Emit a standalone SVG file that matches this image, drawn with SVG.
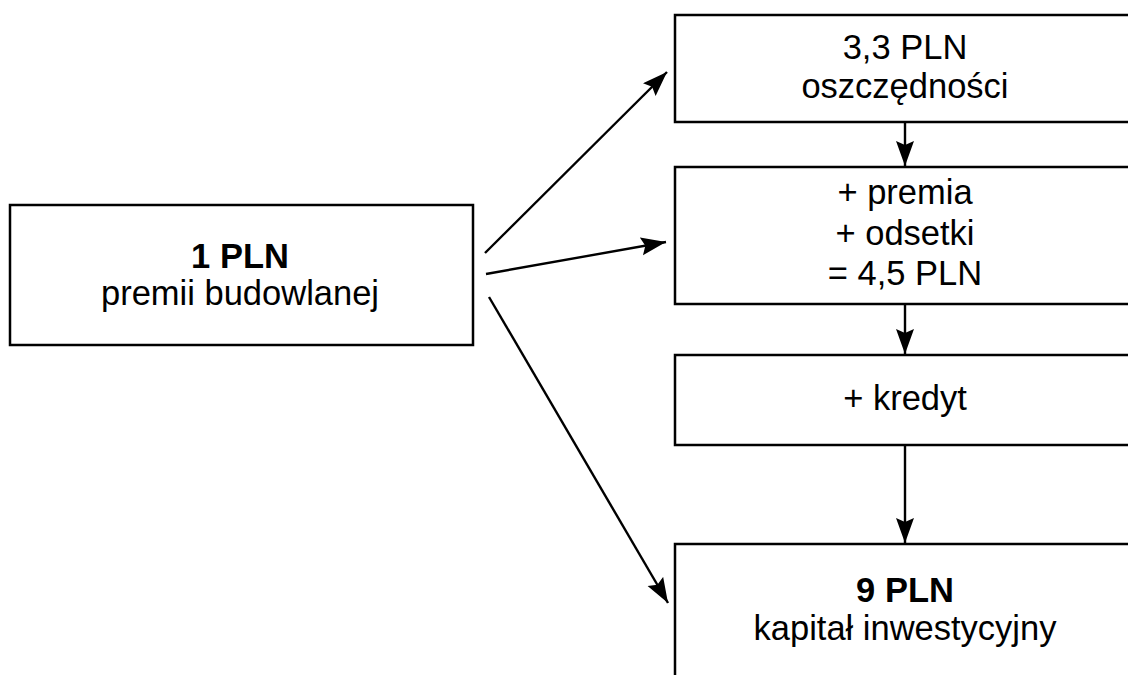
<svg xmlns="http://www.w3.org/2000/svg" width="1128" height="675" viewBox="0 0 1128 675">
<style>
.box{fill:#fff;stroke:#000;stroke-width:2.5}
.t{font-family:"Liberation Sans",Arial,sans-serif;font-size:34.5px;fill:#000;text-anchor:middle}
.b{font-weight:bold}
.c{stroke:#000;stroke-width:2.4;fill:none}
</style>
<defs>
<marker id="ah" markerUnits="userSpaceOnUse" markerWidth="28" markerHeight="20" refX="25" refY="9" orient="auto">
<path d="M0,0 L25,9 L0,18 L4,9 Z" fill="#000"/>
</marker>
</defs>
<rect width="1128" height="675" fill="#fff"/>
<g id="n-premia-budowlana">
<rect class="box" x="10" y="205" width="463" height="140"/>
<text class="t b" x="240" y="268">1 PLN</text>
<text class="t" x="240" y="305">premii budowlanej</text>
</g>
<g id="n-oszczednosci">
<rect class="box" x="675" y="15" width="470" height="107"/>
<text class="t" x="905" y="59">3,3 PLN</text>
<text class="t" x="905" y="98">oszczędności</text>
</g>
<g id="n-premia-odsetki">
<rect class="box" x="675" y="167" width="470" height="137"/>
<text class="t" x="905" y="204">+ premia</text>
<text class="t" x="905" y="245">+ odsetki</text>
<text class="t" x="905" y="285">= 4,5 PLN</text>
</g>
<g id="n-kredyt">
<rect class="box" x="675" y="355" width="470" height="90"/>
<text class="t" x="905" y="410">+ kredyt</text>
</g>
<g id="n-kapital">
<rect class="box" x="675" y="544" width="470" height="160"/>
<text class="t b" x="905" y="602">9 PLN</text>
<text class="t" x="905" y="640">kapitał inwestycyjny</text>
</g>
<g id="connectors">
<line class="c" x1="485" y1="253" x2="667" y2="72" marker-end="url(#ah)"/>
<line class="c" x1="486" y1="274" x2="666" y2="242" marker-end="url(#ah)"/>
<line class="c" x1="489" y1="297" x2="668" y2="603" marker-end="url(#ah)"/>
<line class="c" x1="905" y1="122" x2="905" y2="166" marker-end="url(#ah)"/>
<line class="c" x1="905" y1="304" x2="905" y2="354" marker-end="url(#ah)"/>
<line class="c" x1="905" y1="445" x2="905" y2="543" marker-end="url(#ah)"/>
</g>
</svg>
